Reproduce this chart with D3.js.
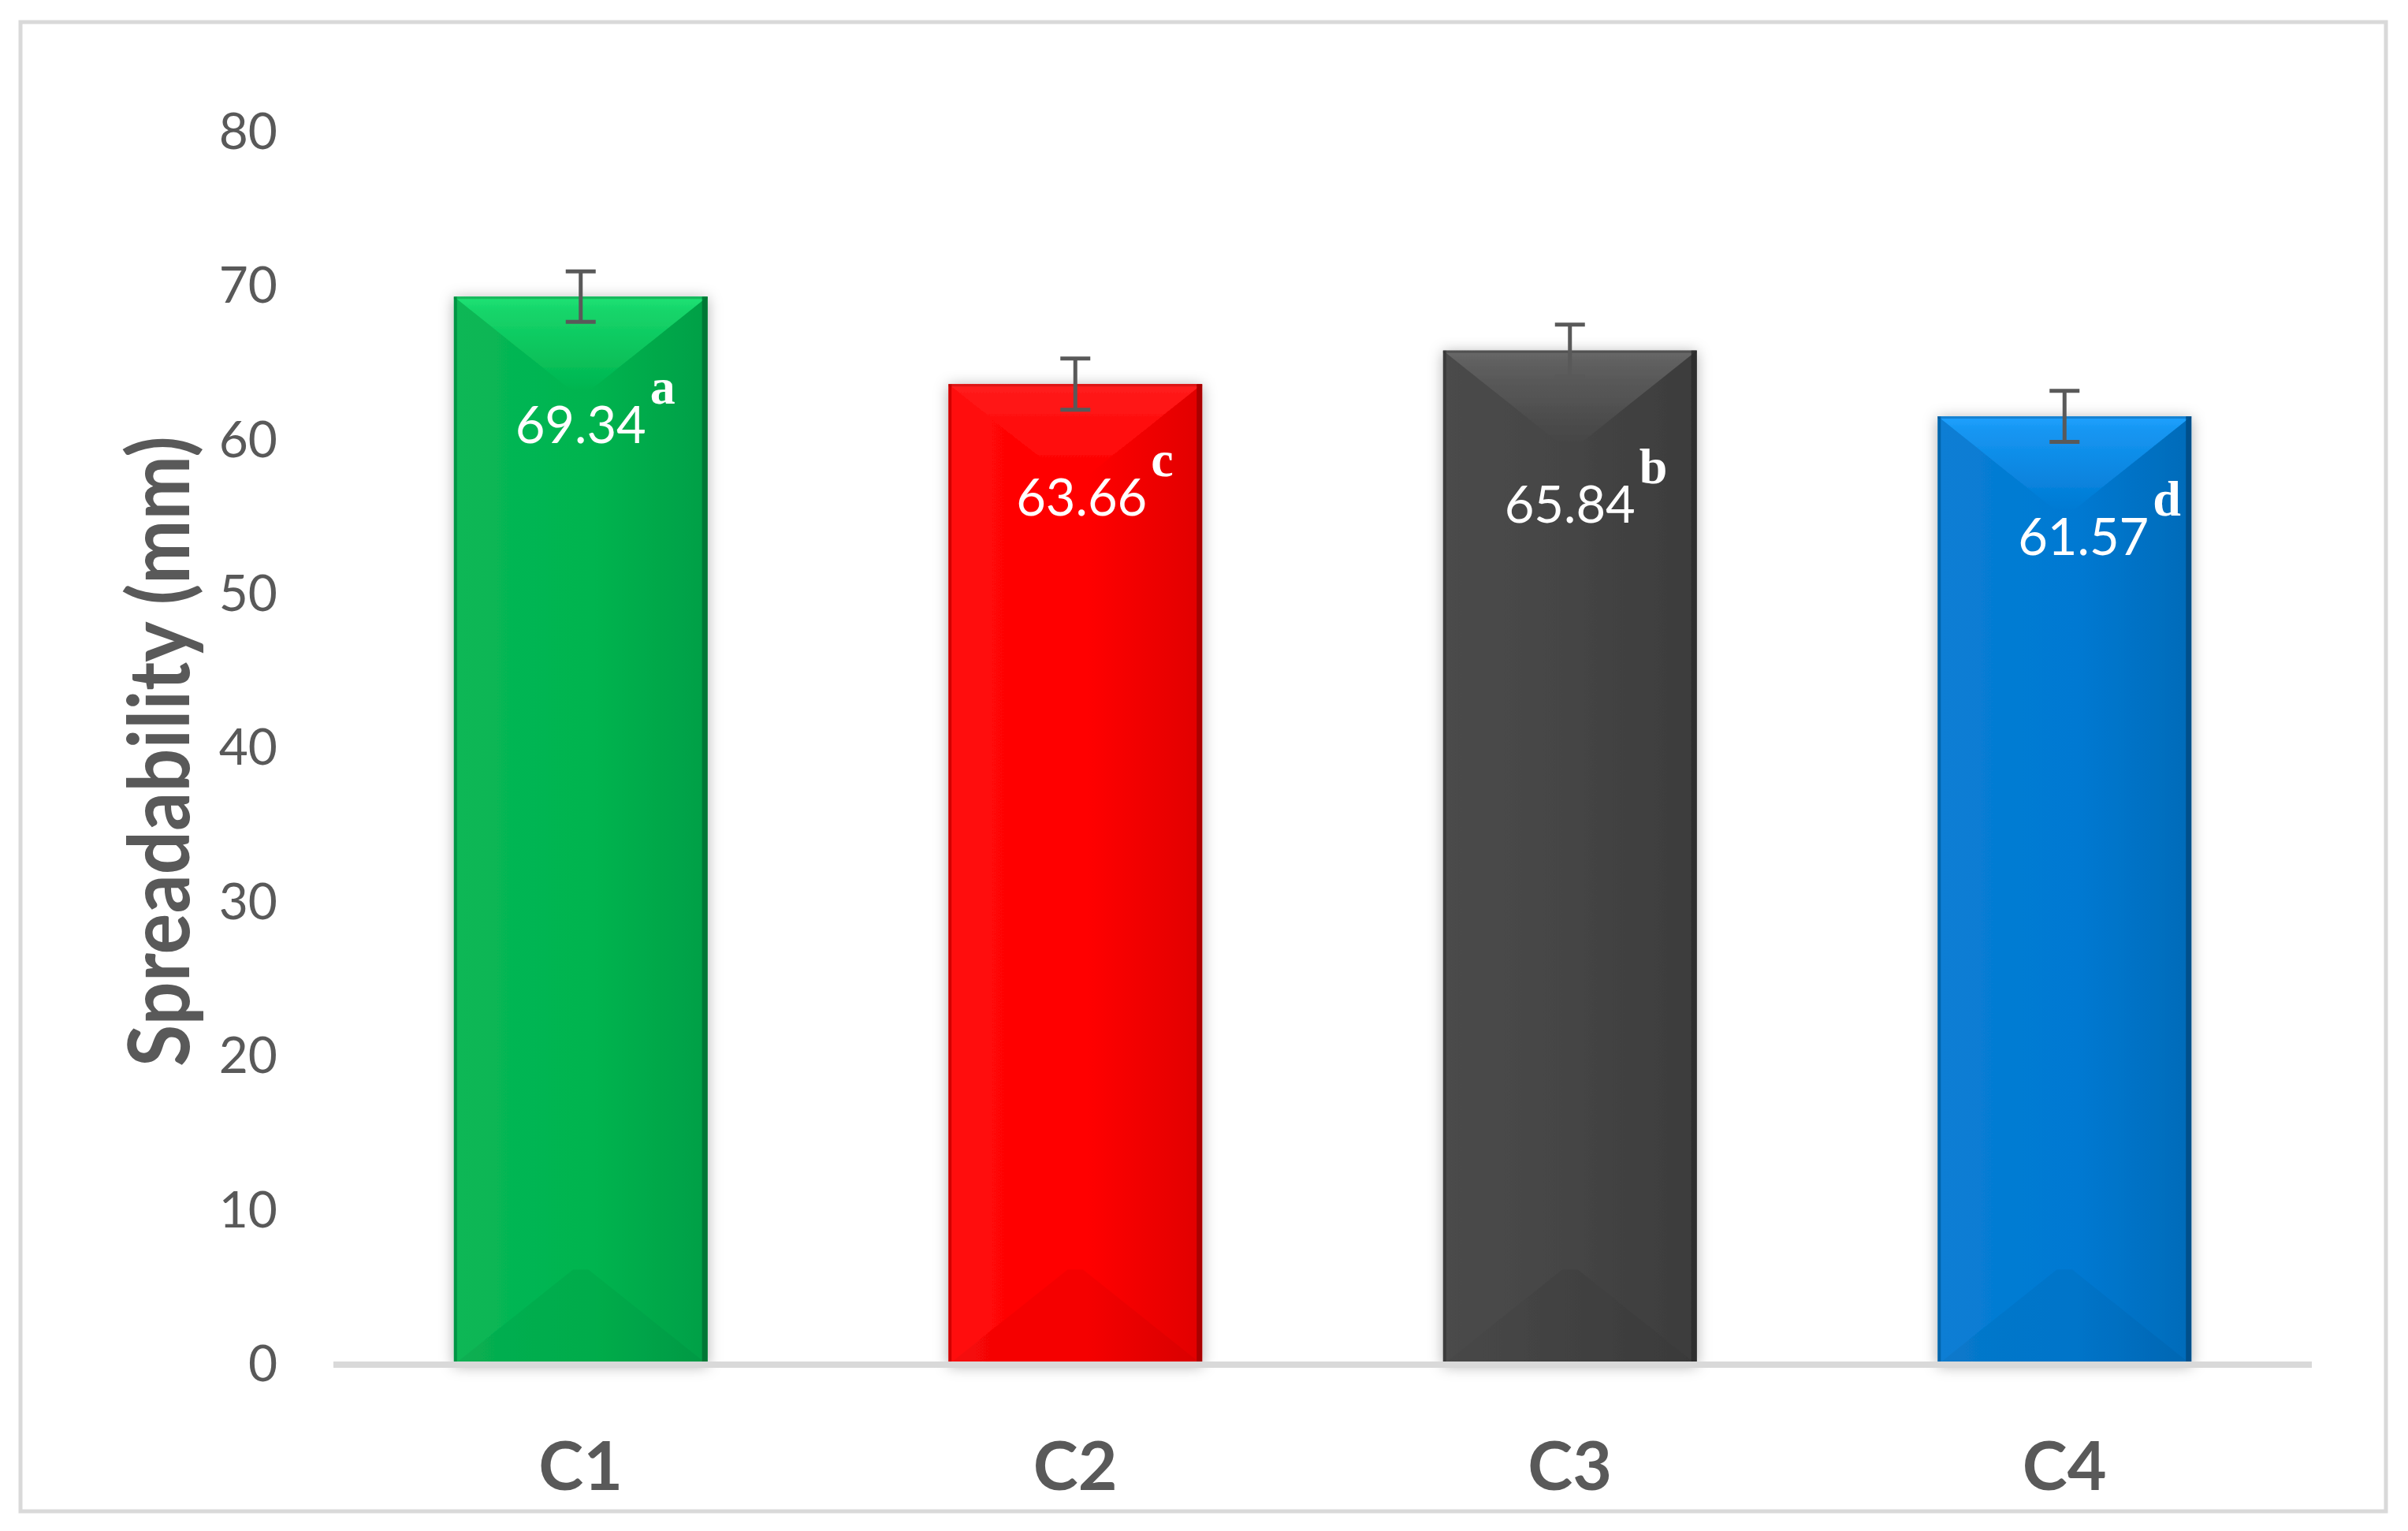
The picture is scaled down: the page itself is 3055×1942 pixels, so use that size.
<!DOCTYPE html>
<html lang="en">
<head>
  <meta charset="UTF-8">
  <title>Spreadability</title>
  <style>
    body { margin: 0; background: #fff; }
    svg { display: block; }
  </style>
</head>
<body>
  <svg id="chart" width="3055" height="1942"></svg>

  <script src="https://d3js.org/d3.v7.min.js"></script>
  <script>
    // data
    const categories = ['C1', 'C2', 'C3', 'C4'];
    const means = [69.34, 63.66, 65.84, 61.57];
    const errors = [1.64, 1.66, 1.68, 1.66];
    const letters = ['a', 'c', 'b', 'd'];
    const yTicks = [0, 10, 20, 30, 40, 50, 60, 70, 80];

    // looks
    const barColors = ['#00b44f', '#ff0000', '#444444', '#0079d2'];
    // the value labels were nudged by hand in the original, [dx, dy below bar top]
    const labelNudge = [[0, 186], [8, 167], [0, 218], [24, 176]];

    const width = 3055;
    const height = 1942;
    const plot = { left: 423, right: 2933, top: 168, bottom: 1731 };
    const grey = '#595959';

    const svg = d3.select('#chart');
    const defs = svg.append('defs');

    svg.append('rect')
      .attr('x', 26).attr('y', 28)
      .attr('width', 3001).attr('height', 1889)
      .attr('fill', '#fff')
      .attr('stroke', '#d9d9d9')
      .attr('stroke-width', 5);

    const x = d3.scaleBand()
      .domain(categories)
      .range([plot.left, plot.right])
      .paddingInner(0.487)
      .paddingOuter(0.2435);

    const y = d3.scaleLinear()
      .domain([0, 80])
      .range([plot.bottom, plot.top]);

    // y axis
    const yAxis = svg.append('g')
      .attr('transform', `translate(${plot.left},0)`)
      .call(d3.axisLeft(y).tickValues(yTicks).tickSize(0).tickPadding(71));
    yAxis.select('.domain').remove();
    yAxis.selectAll('text')
      .attr('font-family', 'Lato, sans-serif')
      .attr('font-size', 64)
      .attr('fill', grey);

    // x axis
    const xAxis = svg.append('g')
      .attr('transform', `translate(0,${plot.bottom})`)
      .call(d3.axisBottom(x).tickSize(0).tickPadding(98));
    xAxis.select('.domain').remove();
    xAxis.selectAll('text')
      .attr('font-family', 'Lato, sans-serif')
      .attr('font-weight', 'bold')
      .attr('font-size', 86)
      .attr('fill', grey);

    // axis title
    svg.append('text')
      .attr('transform', `translate(240,953) rotate(-90)`)
      .attr('text-anchor', 'middle')
      .attr('font-family', 'Lato, sans-serif')
      .attr('font-weight', 'bold')
      .attr('font-size', 108)
      .attr('fill', grey)
      .attr('textLength', 800)
      .attr('lengthAdjust', 'spacingAndGlyphs')
      .text('Spreadability (mm)');

    // shadow for the bars
    const shadow = defs.append('filter')
      .attr('id', 'shadow')
      .attr('x', '-20%').attr('y', '-10%')
      .attr('width', '140%').attr('height', '120%');
    shadow.append('feDropShadow')
      .attr('dx', 0).attr('dy', 2)
      .attr('stdDeviation', 9)
      .attr('flood-color', '#000')
      .attr('flood-opacity', 0.3);

    // gradients per bar
    barColors.forEach((c, i) => {
      const base = d3.color(c);
      const hi = d3.interpolateRgb(base.brighter(0.6), '#fff')(0.12);

      const side = defs.append('linearGradient')
        .attr('id', 'side' + i)
        .attr('x1', 0).attr('x2', 1).attr('y1', 0).attr('y2', 0);
      side.append('stop').attr('offset', 0).attr('stop-color', d3.interpolateRgb(c, '#fff')(0.04));
      side.append('stop').attr('offset', 0.55).attr('stop-color', c);
      side.append('stop').attr('offset', 1).attr('stop-color', base.darker(0.35));

      const top = defs.append('linearGradient')
        .attr('id', 'top' + i)
        .attr('x1', 0).attr('x2', 0).attr('y1', 0).attr('y2', 1);
      top.append('stop').attr('offset', 0).attr('stop-color', hi);
      top.append('stop').attr('offset', 0.15).attr('stop-color', d3.interpolateRgb(hi, c)(0.3));
      top.append('stop').attr('offset', 1).attr('stop-color', c);
    });

    const bars = svg.append('g').selectAll('g')
      .data(categories)
      .join('g')
      .attr('filter', 'url(#shadow)');

    bars.each(function (cat, i) {
      const g = d3.select(this);
      const x0 = x(cat);
      const w = x.bandwidth();
      const x1 = x0 + w;
      const top = y(means[i]);
      const bot = y(0);
      const ix = w * 0.47;
      const d = w * 0.375;
      const dark = d3.color(barColors[i]).darker(1.4);

      g.append('rect')
        .attr('x', x0).attr('y', top)
        .attr('width', w).attr('height', bot - top)
        .attr('fill', `url(#side${i})`);

      g.append('polygon')
        .attr('points', [[x0, top], [x1, top], [x1 - ix, top + d], [x0 + ix, top + d]].join(' '))
        .attr('fill', `url(#top${i})`);

      g.append('polygon')
        .attr('points', [[x0, bot], [x1, bot], [x1 - ix, bot - d], [x0 + ix, bot - d]].join(' '))
        .attr('fill', '#000')
        .attr('opacity', 0.04);

      g.append('rect')
        .attr('x', x0).attr('y', top)
        .attr('width', 4).attr('height', bot - top)
        .attr('fill', dark).attr('opacity', 0.45);

      g.append('rect')
        .attr('x', x1 - 7).attr('y', top)
        .attr('width', 7).attr('height', bot - top)
        .attr('fill', dark).attr('opacity', 0.8);

      g.append('rect')
        .attr('x', x0).attr('y', top)
        .attr('width', w).attr('height', 3)
        .attr('fill', dark).attr('opacity', 0.35);
    });

    // axis line over the bar feet
    svg.append('line')
      .attr('x1', plot.left).attr('x2', plot.right)
      .attr('y1', plot.bottom).attr('y2', plot.bottom)
      .attr('stroke', '#d9d9d9')
      .attr('stroke-width', 8);

    // error bars
    const err = svg.append('g')
      .attr('stroke', grey)
      .attr('stroke-width', 5);
    categories.forEach((cat, i) => {
      const cx = x(cat) + x.bandwidth() / 2;
      const lo = y(means[i] - errors[i]);
      const hi = y(means[i] + errors[i]);
      err.append('line').attr('x1', cx).attr('x2', cx).attr('y1', lo).attr('y2', hi);
      err.append('line').attr('x1', cx - 19).attr('x2', cx + 19).attr('y1', lo).attr('y2', lo);
      err.append('line').attr('x1', cx - 19).attr('x2', cx + 19).attr('y1', hi).attr('y2', hi);
    });

    // value labels with letters
    categories.forEach((cat, i) => {
      const cx = x(cat) + x.bandwidth() / 2 + labelNudge[i][0];
      const base = y(means[i]) + labelNudge[i][1];
      const num = svg.append('text')
        .attr('x', cx).attr('y', base)
        .attr('text-anchor', 'middle')
        .attr('font-family', 'Lato, sans-serif')
        .attr('font-size', 65)
        .attr('fill', '#fff')
        .text(means[i].toFixed(2));
      const tw = num.node().getComputedTextLength();
      svg.append('text')
        .attr('x', cx + tw / 2 + 5).attr('y', base - 50)
        .attr('font-family', '"Liberation Serif", serif')
        .attr('font-weight', 'bold')
        .attr('font-size', 64)
        .attr('fill', '#fff')
        .text(letters[i]);
    });
  </script>
</body>
</html>
